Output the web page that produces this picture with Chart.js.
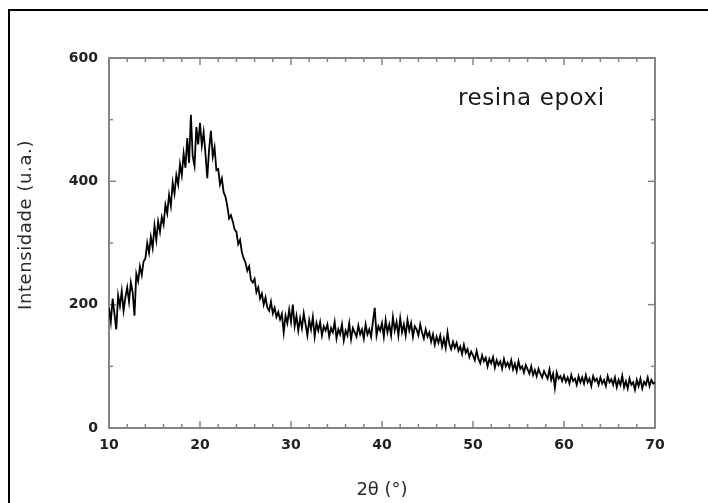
<!DOCTYPE html>
<html>
<head>
<meta charset="utf-8">
<script src="https://cdn.jsdelivr.net/npm/chart.js@4.4.1/dist/chart.umd.min.js"></script>
<style>
  html, body { margin: 0; padding: 0; background: #fff; overflow: hidden; }
  #wrap { position: relative; width: 708px; height: 503px; overflow: hidden; }
  #frame { position: absolute; left: 8px; top: 9px; width: 800px; height: 600px;
           border-left: 2px solid #000; border-top: 2px solid #000; }
  canvas { position: absolute; left: 0; top: 0; }
</style>
</head>
<body>
<div id="wrap">
  <div id="frame"></div>
  <canvas id="c" width="708" height="503"></canvas>
</div>
<script>
// 2θ angles (degrees)
const twoTheta = [
  10,10.2,10.4,10.6,10.8,11,11.2,11.4,11.6,11.8,
  12,12.2,12.4,12.6,12.8,13,13.2,13.4,13.6,13.8,
  14,14.2,14.4,14.6,14.8,15,15.2,15.4,15.6,15.8,
  16,16.2,16.4,16.6,16.8,17,17.2,17.4,17.6,17.8,
  18,18.2,18.4,18.6,18.8,19,19.2,19.4,19.6,19.8,
  20,20.2,20.4,20.6,20.8,21,21.2,21.4,21.6,21.8,
  22,22.2,22.4,22.6,22.8,23,23.2,23.4,23.6,23.8,
  24,24.2,24.4,24.6,24.8,25,25.2,25.4,25.6,25.8,
  26,26.2,26.4,26.6,26.8,27,27.2,27.4,27.6,27.8,
  28,28.2,28.4,28.6,28.8,29,29.2,29.4,29.6,29.8,
  30,30.2,30.4,30.6,30.8,31,31.2,31.4,31.6,31.8,
  32,32.2,32.4,32.6,32.8,33,33.2,33.4,33.6,33.8,
  34,34.2,34.4,34.6,34.8,35,35.2,35.4,35.6,35.8,
  36,36.2,36.4,36.6,36.8,37,37.2,37.4,37.6,37.8,
  38,38.2,38.4,38.6,38.8,39,39.2,39.4,39.6,39.8,
  40,40.2,40.4,40.6,40.8,41,41.2,41.4,41.6,41.8,
  42,42.2,42.4,42.6,42.8,43,43.2,43.4,43.6,43.8,
  44,44.2,44.4,44.6,44.8,45,45.2,45.4,45.6,45.8,
  46,46.2,46.4,46.6,46.8,47,47.2,47.4,47.6,47.8,
  48,48.2,48.4,48.6,48.8,49,49.2,49.4,49.6,49.8,
  50,50.2,50.4,50.6,50.8,51,51.2,51.4,51.6,51.8,
  52,52.2,52.4,52.6,52.8,53,53.2,53.4,53.6,53.8,
  54,54.2,54.4,54.6,54.8,55,55.2,55.4,55.6,55.8,
  56,56.2,56.4,56.6,56.8,57,57.2,57.4,57.6,57.8,
  58,58.2,58.4,58.6,58.8,59,59.2,59.4,59.6,59.8,
  60,60.2,60.4,60.6,60.8,61,61.2,61.4,61.6,61.8,
  62,62.2,62.4,62.6,62.8,63,63.2,63.4,63.6,63.8,
  64,64.2,64.4,64.6,64.8,65,65.2,65.4,65.6,65.8,
  66,66.2,66.4,66.6,66.8,67,67.2,67.4,67.6,67.8,
  68,68.2,68.4,68.6,68.8,69,69.2,69.4,69.6,69.8,
  70
];

// Intensity (u.a.)
const intensity = [
  195,172,210,185,160,215,198,222,190,212,
  228,205,236,220,182,250,238,262,248,270,
  275,300,284,310,292,328,305,335,318,342,
  330,362,348,378,360,398,380,410,395,428,
  410,445,422,470,430,508,440,425,488,460,
  495,458,480,445,405,452,482,440,455,418,
  420,395,405,382,375,360,340,345,335,322,
  318,298,305,285,275,268,255,262,240,236,
  242,220,228,210,218,200,212,195,190,205,
  186,195,180,188,176,185,155,182,170,192,
  172,200,165,182,158,178,162,186,168,150,
  175,160,180,148,170,158,172,150,165,158,
  168,148,162,155,172,145,160,152,168,142,
  158,150,170,144,162,155,148,166,152,160,
  145,168,152,160,148,172,195,150,165,158,
  170,148,175,155,168,150,180,158,172,150,
  178,155,168,150,175,158,170,148,165,160,
  150,168,155,145,160,148,155,140,152,135,
  148,138,150,132,145,130,155,136,128,140,
  130,138,125,132,120,135,122,128,115,124,
  118,110,125,112,105,118,108,114,100,112,
  105,115,98,110,102,108,96,112,100,106,
  98,110,95,104,92,108,96,100,90,102,
  95,88,100,86,94,84,96,88,82,92,
  86,80,95,78,88,65,90,80,84,76,
  85,75,82,72,86,76,80,70,84,74,
  82,72,86,74,80,68,84,76,80,70,
  82,72,78,68,84,74,79,70,82,66,
  78,70,85,66,76,64,80,70,74,62,
  78,68,80,64,75,70,82,68,78,72,
  74
];

// Axis tick values
const xMajorTicks = [10, 20, 30, 40, 50, 60, 70];
const xMinorTicks = [12,14,16,18,22,24,26,28,32,34,36,38,42,44,46,48,52,54,56,58,62,64,66,68];
const yMajorTicks = [0, 200, 400, 600];
const yMinorTicks = [100, 300, 500];

const sampleLabel = 'resina epoxi';
const xTitle = '2θ (°)';
const yTitle = 'Intensidade (u.a.)';

const points = twoTheta.map((t, i) => ({ x: t, y: intensity[i] }));

const frameTicks = {
  id: 'frameTicks',
  beforeDatasetsDraw(chart) {
    const { ctx, chartArea: a, scales: { x, y } } = chart;
    ctx.save();
    ctx.strokeStyle = '#858585';
    ctx.lineWidth = 2;
    ctx.strokeRect(a.left, a.top, a.right - a.left, a.bottom - a.top);
    ctx.lineWidth = 1.5;
    const seg = (x1, y1, x2, y2) => { ctx.beginPath(); ctx.moveTo(x1, y1); ctx.lineTo(x2, y2); ctx.stroke(); };
    const xt = (vals, len) => vals.forEach(v => {
      const p = x.getPixelForValue(v);
      seg(p, a.bottom, p, a.bottom - len);
      seg(p, a.top, p, a.top + len);
    });
    const yt = (vals, len) => vals.forEach(v => {
      const p = y.getPixelForValue(v);
      seg(a.left, p, a.left + len, p);
      seg(a.right, p, a.right - len, p);
    });
    xt(xMajorTicks, 7); xt(xMinorTicks, 4);
    yt(yMajorTicks, 7); yt(yMinorTicks, 4);
    ctx.restore();
  },
  afterDraw(chart) {
    const { ctx, chartArea: a, scales: { x, y } } = chart;
    ctx.save();
    // sample label
    ctx.fillStyle = '#1a1a1a';
    ctx.font = '23px "DejaVu Sans"';
    ctx.textAlign = 'left';
    ctx.textBaseline = 'alphabetic';
    try { ctx.letterSpacing = '0.6px'; } catch (e) {}
    ctx.fillText(sampleLabel, x.getPixelForValue(48.35), y.getPixelForValue(523));
    // y axis title
    ctx.translate(26, (a.top + a.bottom) / 2 - 18);
    ctx.rotate(-Math.PI / 2);
    ctx.font = '18px "DejaVu Sans"';
    ctx.fillStyle = '#2a2a2a';
    ctx.textAlign = 'center';
    ctx.textBaseline = 'middle';
    ctx.fillText(yTitle, 0, 0);
    ctx.restore();
  }
};

const tickFont = { family: 'DejaVu Sans', size: 14, weight: 'bold' };

new Chart(document.getElementById('c'), {
  type: 'line',
  data: {
    datasets: [{
      data: points,
      borderColor: '#000',
      borderWidth: 1.8,
      pointRadius: 0,
      tension: 0,
      fill: false
    }]
  },
  options: {
    responsive: false,
    animation: false,
    devicePixelRatio: 1,
    layout: { padding: { top: 58, right: 53, left: 0, bottom: 0 } },
    plugins: { legend: { display: false }, tooltip: { enabled: false } },
    scales: {
      x: {
        type: 'linear',
        min: 10, max: 70,
        afterFit: s => { s.height = 75; },
        grid: { display: false, drawTicks: false },
        border: { display: false },
        ticks: { stepSize: 10, font: tickFont, color: '#222', padding: 9, maxRotation: 0 },
        title: { display: true, text: xTitle, font: { family: 'DejaVu Sans', size: 18 }, color: '#2a2a2a', padding: { top: 0, bottom: 2 } }
      },
      y: {
        type: 'linear',
        min: 0, max: 600,
        afterFit: s => { s.width = 109; },
        grid: { display: false, drawTicks: false },
        border: { display: false },
        ticks: { stepSize: 200, font: tickFont, color: '#222', padding: 11 }
      }
    }
  },
  plugins: [frameTicks]
});
</script>
</body>
</html>
